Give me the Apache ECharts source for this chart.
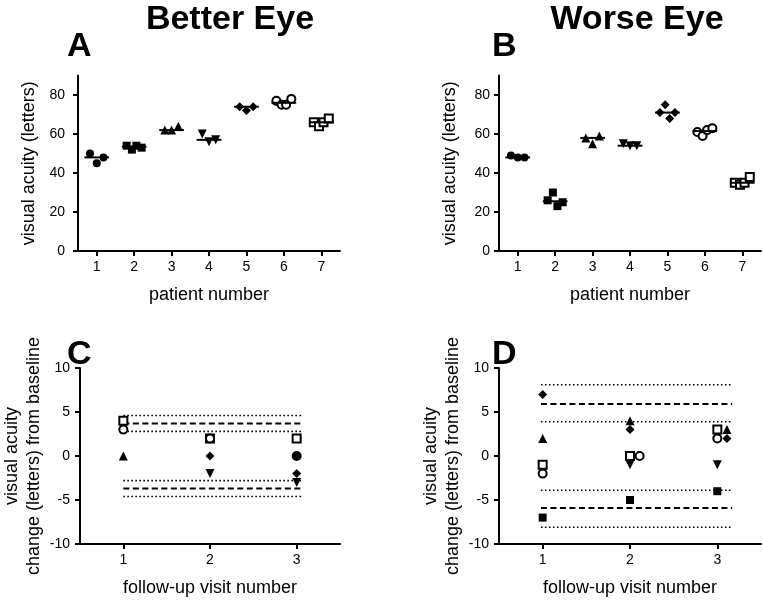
<!DOCTYPE html>
<html>
<head>
<meta charset="utf-8">
<script src="https://cdn.jsdelivr.net/npm/echarts@6/dist/echarts.min.js"></script>
<style>
html,body{margin:0;padding:0;background:#fff;}
#chart{width:763px;height:602px;}
</style>
</head>
<body>
<div id="chart"></div>
<script>
// ---------- DATA ----------
const patients = [1, 2, 3, 4, 5, 6, 7];
const yTicksAB = [0, 20, 40, 60, 80];
const yTicksCD = [-10, -5, 0, 5, 10];
const visits = [1, 2, 3];

// Panel A: better eye visual acuity (letters), repeated measurements per patient
const betterP1 = [50, 45, 48];
const betterP2 = [54, 52, 54, 53];
const betterP3 = [62, 62, 64];
const betterP4 = [60, 56, 57];
const betterP5 = [74, 72, 74];
const betterP6 = [77, 75, 75, 78];
const betterP7 = [66, 64, 66, 68];

// Panel B: worse eye
const worseP1 = [49, 48, 48];
const worseP2 = [26, 30, 23, 25];
const worseP3 = [58, 55, 59];
const worseP4 = [55, 54, 54];
const worseP5 = [71, 75, 68, 71];
const worseP6 = [61, 59, 62, 63];
const worseP7 = [35, 34, 35, 38];

// Panel C: change from baseline, better eye (visits 1..3)
const chgBetterP1 = [null, null, 0];
const chgBetterP3 = [0, null, null];
const chgBetterP4 = [null, -2, -3];
const chgBetterP5 = [null, 0, -2];
const chgBetterP6 = [3, 2, 0];
const chgBetterP7 = [4, 2, 2];

// Panel D: change from baseline, worse eye
const chgWorseP2 = [-7, -5, -4];
const chgWorseP3 = [2, 4, 3];
const chgWorseP4 = [null, -1, -1];
const chgWorseP5 = [7, 3, 2];
const chgWorseP6 = [-2, 0, 2];
const chgWorseP7 = [-1, 0, 3];

// Reference limits (letters)
const limitsC = {dashed: [3.7, -3.7], dotted: [4.6, 2.8, -2.8, -4.6]};
const limitsD = {dashed: [5.9, -5.9], dotted: [8.1, 3.9, -3.9, -8.1]};

// ---------- STYLE ----------
const FONT = "'Liberation Sans', Arial, sans-serif";
const TITLEFONT = "'Liberation Sans', Arial, sans-serif";
const MARKERS = [
  {symbol: 'circle', size: 8, rotate: 0, empty: false},
  {symbol: 'rect', size: 8, rotate: 0, empty: false},
  {symbol: 'triangle', size: 9, rotate: 0, empty: false},
  {symbol: 'triangle', size: 9, rotate: 180, empty: false},
  {symbol: 'diamond', size: 9, rotate: 0, empty: false},
  {symbol: 'emptyCircle', size: 8, rotate: 0, empty: true},
  {symbol: 'emptyRect', size: 8, rotate: 0, empty: true}
];

function median(a) {
  const s = a.slice().sort((x, y) => x - y);
  const m = Math.floor(s.length / 2);
  return s.length % 2 ? s[m] : (s[m - 1] + s[m]) / 2;
}
function jitter(n, i) {
  if (n === 3) return [-0.18, 0, 0.18][i];
  if (n === 4) return [-0.2, -0.06, 0.06, 0.2][i];
  return 0;
}

const groupsA = [betterP1, betterP2, betterP3, betterP4, betterP5, betterP6, betterP7];
const groupsB = [worseP1, worseP2, worseP3, worseP4, worseP5, worseP6, worseP7];

const series = [];
function scatterSeries(idx, data, mk, z) {
  return {
    type: 'scatter', xAxisIndex: idx, yAxisIndex: idx,
    symbol: mk.symbol, symbolSize: mk.size, symbolRotate: mk.rotate,
    itemStyle: mk.empty ? {color: '#000', borderColor: '#000', borderWidth: 1.6, opacity: 1}
                        : {color: '#000', borderWidth: 0, opacity: 1},
    emphasis: {disabled: true},
    data: data, z: z || 3
  };
}
[[0, groupsA], [1, groupsB]].forEach(([idx, groups]) => {
  groups.forEach((vals, g) => {
    const pts = vals.map((v, i) => [patients[g] + jitter(vals.length, i), v]);
    series.push(scatterSeries(idx, pts, MARKERS[g]));
  });
  // median bars
  series.push({
    type: 'custom', xAxisIndex: idx, yAxisIndex: idx, z: 4,
    data: groups.map((vals, g) => [patients[g], median(vals)]),
    renderItem: function (params, api) {
      const p0 = api.coord([api.value(0) - 0.33, api.value(1)]);
      const p1 = api.coord([api.value(0) + 0.33, api.value(1)]);
      return {type: 'line', shape: {x1: p0[0], y1: p0[1], x2: p1[0], y2: p1[1]},
              style: {stroke: '#000', lineWidth: 2}};
    }
  });
});

// Panels C and D
const groupsC = [[0, chgBetterP1], [2, chgBetterP3], [3, chgBetterP4], [4, chgBetterP5], [5, chgBetterP6], [6, chgBetterP7]];
const groupsD = [[1, chgWorseP2], [2, chgWorseP3], [3, chgWorseP4], [4, chgWorseP5], [5, chgWorseP6], [6, chgWorseP7]];
function changePanel(idx, groups, dodge, reverseDraw) {
  const placed = visits.map(() => []);
  const xs = {};
  groups.slice().reverse().forEach(([g, vals]) => {
    xs[g] = vals.map((v, vi) => {
      if (v === null) return null;
      let off = 0;
      if (dodge) {
        while (placed[vi].some(p => p.v === v && Math.abs(p.off - off) < 1e-6)) off += 0.11;
      }
      placed[vi].push({v: v, off: off});
      return visits[vi] + off;
    });
  });
  groups.forEach(([g, vals], k) => {
    const pts = vals.map((v, vi) => v === null ? null : [xs[g][vi], v]).filter(p => p);
    const z = reverseDraw ? 3 + (groups.length - k) * 0.01 : 3;
    series.push(scatterSeries(idx, pts, MARKERS[g], z));
  });
}
changePanel(2, groupsC, false, true);
changePanel(3, groupsD, true, false);

function limitLines(idx, lim, x0, x1) {
  lim.dashed.forEach(v => series.push({
    type: 'line', xAxisIndex: idx, yAxisIndex: idx, data: [[x0, v], [x1, v]], symbol: 'none', z: 2,
    silent: true, lineStyle: {color: '#000', width: 2, type: [6, 3.5]}
  }));
  lim.dotted.forEach(v => series.push({
    type: 'line', xAxisIndex: idx, yAxisIndex: idx, data: [[x0, v], [x1, v]], symbol: 'none', z: 2,
    silent: true, lineStyle: {color: '#000', width: 1.6, type: [1.6, 2.4]}
  }));
}
limitLines(2, limitsC, 1.0, 3.05);
limitLines(3, limitsD, 0.98, 3.17);

const axisLine = {show: true, onZero: false, lineStyle: {color: '#000', width: 2}};
const axisTickBase = {show: true, inside: false, length: 5, lineStyle: {color: '#000', width: 2}};
const labelBase = {color: '#000', fontSize: 14, fontFamily: FONT};
const nameStyle = {color: '#000', fontSize: 18, fontFamily: FONT};

function xAx(idx, max, ticks, name) {
  return {
    type: 'value', gridIndex: idx, min: 0.5, max: max,
    axisLine: axisLine,
    axisTick: Object.assign({customValues: ticks}, axisTickBase),
    axisLabel: Object.assign({customValues: ticks, margin: 9}, labelBase),
    splitLine: {show: false},
    name: name, nameLocation: 'middle', nameGap: 35, nameTextStyle: nameStyle
  };
}
function yAx(idx, min, max, ticks, name, gap, margin) {
  return {
    type: 'value', gridIndex: idx, min: min, max: max,
    axisLine: axisLine,
    axisTick: Object.assign({customValues: ticks}, axisTickBase),
    axisLabel: Object.assign({customValues: ticks, margin: margin}, labelBase),
    splitLine: {show: false},
    name: name, nameLocation: 'middle', nameGap: gap,
    nameTextStyle: Object.assign({lineHeight: 22, align: 'center'}, nameStyle)
  };
}

const TF = 'bold 34px ' + TITLEFONT;
const option = {
  backgroundColor: '#fff',
  animation: false,
  grid: [
    {left: 78, top: 75.5, width: 262, height: 175.5},
    {left: 499, top: 75.5, width: 262, height: 175.5},
    {left: 78, top: 368, width: 262, height: 176},
    {left: 499, top: 368, width: 262, height: 176}
  ],
  xAxis: [
    xAx(0, 7.5, patients, 'patient number'),
    xAx(1, 7.5, patients, 'patient number'),
    xAx(2, 3.5, visits, 'follow-up visit number'),
    xAx(3, 3.5, visits, 'follow-up visit number')
  ],
  yAxis: [
    yAx(0, 0, 90, yTicksAB, 'visual acuity (letters)', 38, 13),
    yAx(1, 0, 90, yTicksAB, 'visual acuity (letters)', 38, 9),
    yAx(2, -10, 10, yTicksCD, 'visual acuity\nchange (letters) from baseline', 35, 10),
    yAx(3, -10, 10, yTicksCD, 'visual acuity\nchange (letters) from baseline', 35, 10)
  ],
  graphic: [
    {type: 'text', x: 230, y: 3, style: {text: 'Better Eye', font: TF, fill: '#000', textAlign: 'center', textVerticalAlign: 'top'}},
    {type: 'text', x: 637, y: 3, style: {text: 'Worse Eye', font: TF, fill: '#000', textAlign: 'center', textVerticalAlign: 'top'}},
    {type: 'text', x: 67, y: 30, style: {text: 'A', font: TF, fill: '#000', textAlign: 'left', textVerticalAlign: 'top'}},
    {type: 'text', x: 492, y: 30, style: {text: 'B', font: TF, fill: '#000', textAlign: 'left', textVerticalAlign: 'top'}},
    {type: 'text', x: 67, y: 338, style: {text: 'C', font: TF, fill: '#000', textAlign: 'left', textVerticalAlign: 'top'}},
    {type: 'text', x: 492, y: 338, style: {text: 'D', font: TF, fill: '#000', textAlign: 'left', textVerticalAlign: 'top'}}
  ],
  series: series
};

const chart = echarts.init(document.getElementById('chart'), null, {renderer: 'canvas'});
chart.setOption(option);
</script>
</body>
</html>
